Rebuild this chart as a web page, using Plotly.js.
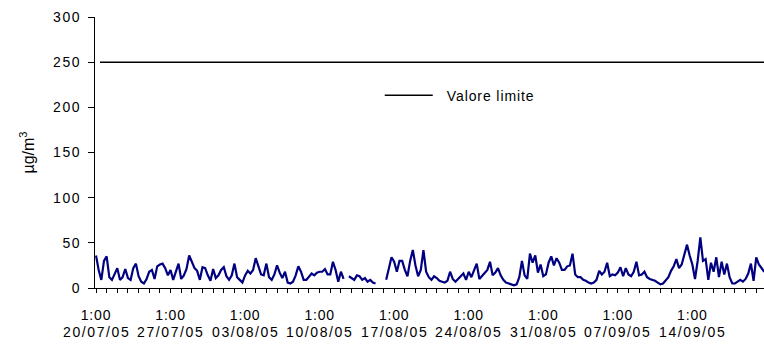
<!DOCTYPE html>
<html>
<head>
<meta charset="utf-8">
<script src="https://cdn.plot.ly/plotly-3.0.1.min.js"></script>
<style>
html,body{margin:0;padding:0;background:#fff;}
#chart{width:764px;height:345px;}
.ytick text, .annotation-text { letter-spacing: 1.6px; }
.xtick text { letter-spacing: 0.8px; }
.legendtext { letter-spacing: 0.9px; }
</style>
</head>
<body>
<div id="chart"></div>
<script>
// ---- data (6-hourly readings, µg/m3), starting 20/07/05 01:00 ----
const seriesStart = [2005, 7, 20, 1];   // year, month, day, hour
const stepHours = 6;
const seriesName = 'Concentrazione';
const concentration = [
  36,20,9,30,35,12,9,16,22,9,12,21,11,9,22,27,13,7,5,10,
  18,20,10,24,26,27,22,14,20,9,18,27,10,14,21,36,29,22,19,9,
  23,22,14,8,21,11,14,20,23,13,9,14,27,12,9,6,14,19,16,20,
  33,24,15,14,27,12,9,15,25,17,11,18,6,5,7,14,24,18,9,9,
  12,16,14,17,18,18,21,15,15,29,20,7,18,10,null,13,11,9,14,13,
  9,11,7,9,6,5,null,null,null,9,20,34,29,18,30,30,20,13,30,42,
  25,13,20,42,18,12,9,13,11,8,7,6,8,18,10,7,10,13,16,9,
  18,12,20,27,10,13,16,20,29,14,17,22,14,9,6,5,4,3,4,12,
  30,14,10,38,28,36,17,26,13,15,28,35,25,33,28,20,20,24,25,38,
  15,12,12,9,8,6,5,6,9,19,15,18,28,13,15,14,17,23,13,22,
  15,13,18,29,14,15,18,12,10,9,8,6,4,5,8,12,19,24,32,22,
  26,38,48,36,26,10,30,56,30,32,9,28,18,34,12,29,15,27,12,5,
  5,7,9,7,10,16,27,8,34,26,22,18
];
const limitName = 'Valore limite';
const limitValue = 250;

const tickDates = ['2005-07-20 01:00','2005-07-27 01:00','2005-08-03 01:00','2005-08-10 01:00',
                   '2005-08-17 01:00','2005-08-24 01:00','2005-08-31 01:00','2005-09-07 01:00','2005-09-14 01:00'];
const tickTimeLabels = ['1:00','1:00','1:00','1:00','1:00','1:00','1:00','1:00','1:00'];
const tickDayLabels = ['20/07/05','27/07/05','03/08/05','10/08/05','17/08/05','24/08/05','31/08/05','07/09/05','14/09/05'];

// ---- helpers ----
function pad(n){return (n<10?'0':'')+n;}
function fmt(ms){const d=new Date(ms);return d.getUTCFullYear()+'-'+pad(d.getUTCMonth()+1)+'-'+pad(d.getUTCDate())+' '+pad(d.getUTCHours())+':'+pad(d.getUTCMinutes());}
const t0 = Date.UTC(seriesStart[0], seriesStart[1]-1, seriesStart[2], seriesStart[3]);
const H = 3600e3;
const times = concentration.map((_, i) => fmt(t0 + i*stepHours*H));
const rangeStart = fmt(t0 - 2.25*H);
const rangeEnd = fmt(t0 + 1505.5*H);

const FONT = 'Liberation Sans, Arial, sans-serif';

const traces = [
  {
    x: times, y: concentration, name: seriesName, type: 'scatter', mode: 'lines',
    line: {color: '#000080', width: 2.2}, connectgaps: false, showlegend: false, hoverinfo: 'skip'
  },
  {
    x: [fmt(t0 + 9*H), times[times.length-1]], y: [limitValue, limitValue], name: limitName,
    type: 'scatter', mode: 'lines', line: {color: '#000000', width: 1.5}, showlegend: true, hoverinfo: 'skip'
  }
];

const annotations = tickDates.map((d, i) => ({
  x: d, xref: 'x', y: -0.162, yref: 'paper', text: tickDayLabels[i], showarrow: false,
  xanchor: 'center', yanchor: 'middle', font: {family: FONT, size: 14, color: '#000'}
}));

const layout = {
  width: 764, height: 345,
  margin: {l: 95, r: 0, t: 17, b: 57, pad: 0},
  paper_bgcolor: '#fff', plot_bgcolor: '#fff',
  font: {family: FONT, size: 14, color: '#000'},
  showlegend: true,
  legend: {x: 0.466, y: 0.71, xanchor: 'left', yanchor: 'middle', bgcolor: 'rgba(0,0,0,0)',
           font: {family: FONT, size: 14, color: '#000'}},
  xaxis: {
    type: 'date', range: [rangeStart, rangeEnd], tickmode: 'array', tickvals: tickDates, ticktext: tickTimeLabels,
    ticks: 'outside', ticklen: 4, tickcolor: '#000', tickwidth: 1, showline: true, linecolor: '#000', linewidth: 1,
    showgrid: false, zeroline: false, ticklabelstandoff: 10,
    tickfont: {family: FONT, size: 14, color: '#000'},
    minor: {tickmode: 'linear', tick0: tickDates[0], dtick: 86400000, ticks: 'outside', ticklen: 4, tickcolor: '#000', showgrid: false}
  },
  yaxis: {
    range: [0, 300], tickmode: 'linear', tick0: 0, dtick: 50,
    ticks: 'outside', ticklen: 6, tickcolor: '#000', tickwidth: 1, showline: true, linecolor: '#000', linewidth: 1,
    showgrid: false, zeroline: false, ticklabelstandoff: 4,
    tickfont: {family: FONT, size: 14, color: '#000'},
    title: {text: 'µg/m<sup>3</sup>', font: {family: FONT, size: 16, color: '#000'}, standoff: 14}
  },
  annotations: annotations
};

function stretchLegendKey(){
  document.querySelectorAll('.legend [clip-path]').forEach(el => el.removeAttribute('clip-path'));
  document.querySelectorAll('.legend .legendlines path, .legend path.js-line').forEach(p => p.setAttribute('d', 'M-22,0h48'));
}
Plotly.newPlot('chart', traces, layout, {staticPlot: true, displayModeBar: false}).then(gd => {
  stretchLegendKey();
  gd.on('plotly_afterplot', stretchLegendKey);
});
</script>
</body>
</html>
